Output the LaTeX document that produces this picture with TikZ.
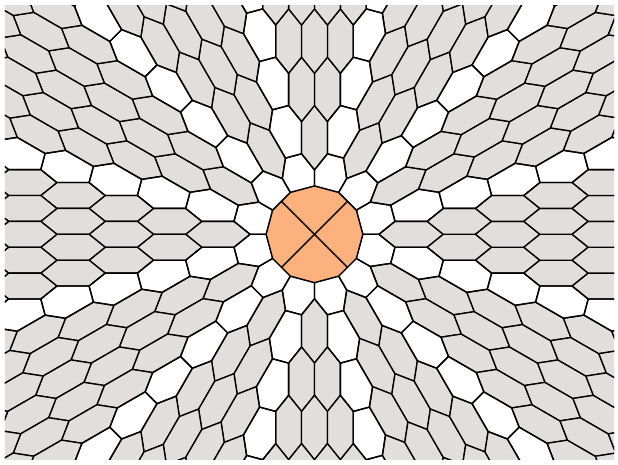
\documentclass[tikz,border=0pt]{standalone}
\usepackage{tikz}
\begin{document}
\begin{tikzpicture}[x=1pt,y=1pt,line join=round]
        \definecolor{tilegrey}{RGB}{226,222,221}
        \definecolor{coreorange}{RGB}{253,177,125}
        \tikzset{greytile/.style={fill=tilegrey,draw=black,line width=1.35pt},
                 seamtile/.style={draw=black,line width=1.35pt}}
        \def\R{32.2}   % hexagon half length
        \def\h{12.94}  % hexagon half width
        \useasboundingbox (-314.5,-229.7) rectangle (303.5,234.3);

        \begin{scope}
        \clip (-309.5,-224.7) rectangle (299.5,229.3);

        % twelve wedges of grey hexagons
        \foreach \j in {0,...,11}{
          \begin{scope}[rotate=30*\j]
          \foreach \m in {1,...,9}{
            \foreach \n in {1,...,9}{
              \ifnum\numexpr\m+\n\relax<11
                \pgfmathsetmacro\cx{1.5*\R*(\m+\n)}
                \pgfmathsetmacro\cy{\h*(\m-\n)}
                \draw[greytile] (\cx+\R,\cy) -- (\cx+0.5*\R,\cy+\h) -- (\cx-0.5*\R,\cy+\h)
                      -- (\cx-\R,\cy) -- (\cx-0.5*\R,\cy-\h) -- (\cx+0.5*\R,\cy-\h) -- cycle;
              \fi
            }
          }
          \end{scope}
        }

        % white cells along the seams
        \foreach \j in {0,...,11}{
          \foreach \m in {1,...,9}{
            \pgfmathsetmacro\cx{1.5*\R*\m}
            \pgfmathsetmacro\cy{\h*\m}
            \begin{scope}[rotate=30*\j]
              \coordinate (sa) at (\cx-0.5*\R,\cy-\h);
              \coordinate (sb) at (\cx+0.5*\R,\cy-\h);
              \coordinate (sc) at (\cx+\R,\cy);
            \end{scope}
            \begin{scope}[rotate=30*\j+30]
              \coordinate (sd) at (\cx+\R,-\cy);
              \coordinate (se) at (\cx+0.5*\R,-\cy+\h);
              \coordinate (sf) at (\cx-0.5*\R,-\cy+\h);
            \end{scope}
            \ifnum\m=1
              \coordinate (sa) at ({30*\j}:{1.5*\R});
              \coordinate (sf) at ({30*\j+30}:{1.5*\R});
            \fi
            \draw[seamtile] (sa) -- (sb) -- (sc) -- (sd) -- (se) -- (sf) -- cycle;
          }
        }

        % core
        \draw[fill=coreorange,line width=1.35pt] (0:1.5*\R) \foreach \a in {30,60,...,330}{ -- (\a:1.5*\R)} -- cycle;
        \draw[line width=1.35pt] (45:1.449*\R) -- (225:1.449*\R);
        \draw[line width=1.35pt] (135:1.449*\R) -- (315:1.449*\R);
        \end{scope}
\end{tikzpicture}
\end{document}
